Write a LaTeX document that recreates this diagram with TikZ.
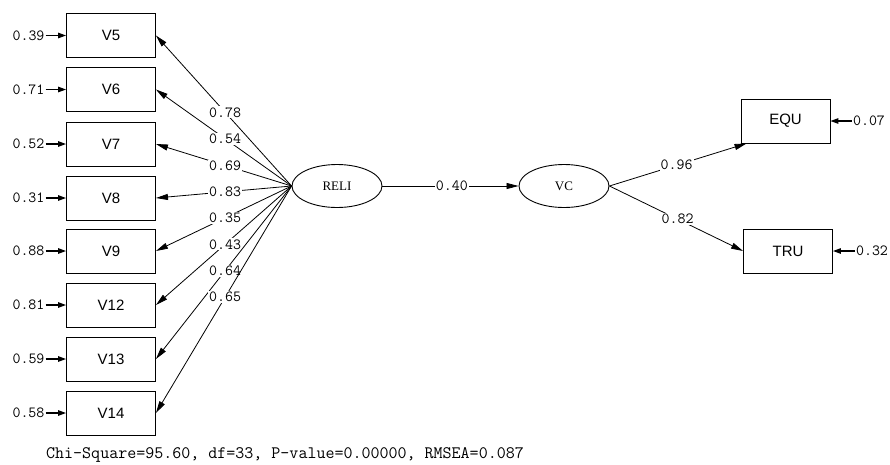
\documentclass[tikz,border=0pt]{standalone}
\usepackage{fontspec}
\setmainfont{Liberation Serif}
\newfontfamily\boxfont{Liberation Sans}
\usetikzlibrary{arrows.meta,shapes.geometric}
\begin{document}
\begin{tikzpicture}[x=1pt,y=-1pt,
  obs/.style={draw,line width=0.9pt,minimum width=89pt,minimum height=44pt,inner sep=0pt,font=\boxfont\fontsize{15}{17}\selectfont},
  lat/.style={draw,ellipse,line width=0.9pt,minimum width=90pt,minimum height=43pt,inner sep=0pt,font=\fontsize{13}{15}\selectfont},
  num/.style={font=\ttfamily\fontsize{15.5}{17}\selectfont,inner sep=1pt},
  lbl/.style={num,fill=white},
  path/.style={line width=0.8pt,-{Triangle[length=12pt,width=6pt]}},
  err/.style={line width=1.2pt,-{Triangle[length=8pt,width=5.5pt]}}
]
\useasboundingbox (0,0) rectangle (890,464);
\fill[white] (0,0) rectangle (890,464);
% observed indicators
\node[obs] (V5)  at (111,35.5) {V5};
\node[obs] (V6)  at (111,89.5) {V6};
\node[obs] (V7)  at (111,144) {V7};
\node[obs] (V8)  at (111,198) {V8};
\node[obs] (V9)  at (111,251) {V9};
\node[obs] (V12) at (111,305) {V12};
\node[obs] (V13) at (111,359) {V13};
\node[obs] (V14) at (111,413) {V14};
\node[obs] (EQU) at (785.5,121) {EQU};
\node[obs] (TRU) at (788,251) {TRU};
% latent
\node[lat] (RELI) at (337,186) {RELI};
\node[lat] (VC) at (564,186) {VC};
% error terms
\node[num] (e5)  at (28.5,35.5) {0.39};
\node[num] (e6)  at (28.5,89.5) {0.71};
\node[num] (e7)  at (28.5,144) {0.52};
\node[num] (e8)  at (28.5,198) {0.31};
\node[num] (e9)  at (28.5,251) {0.88};
\node[num] (e12) at (28.5,305) {0.81};
\node[num] (e13) at (28.5,359) {0.59};
\node[num] (e14) at (28.5,413) {0.58};
\node[num] (eE)  at (869,121) {0.07};
\node[num] (eT)  at (872,251) {0.32};
\foreach \e/\v in {e5/V5,e6/V6,e7/V7,e8/V8,e9/V9,e12/V12,e13/V13,e14/V14}
  \draw[err] (\e.east) -- (\v.west);
\draw[err] (eE.west) -- (EQU.east);
\draw[err] (eT.west) -- (TRU.east);
% loadings
\foreach \v/\l in {V5/0.78,V6/0.54,V7/0.69,V8/0.83,V9/0.35,V12/0.43,V13/0.64,V14/0.65}
  \draw[path] (RELI.west) -- node[lbl,pos=0.49] {\l} (\v.east);
\draw[path] (RELI.east) -- node[lbl,pos=0.51] {0.40} (VC.west);
\draw[path] (VC.east) -- node[lbl,pos=0.49] {0.96} ([xshift=6pt]EQU.south west);
\draw[path] (VC.east) -- node[lbl,pos=0.51] {0.82} (TRU.west);
% fit
\node[font=\ttfamily\fontsize{17.5}{19}\selectfont] (fit) at (285,455) {Chi-Square=95.60, df=33, P-value=0.00000, RMSEA=0.087};
\end{tikzpicture}
\end{document}
